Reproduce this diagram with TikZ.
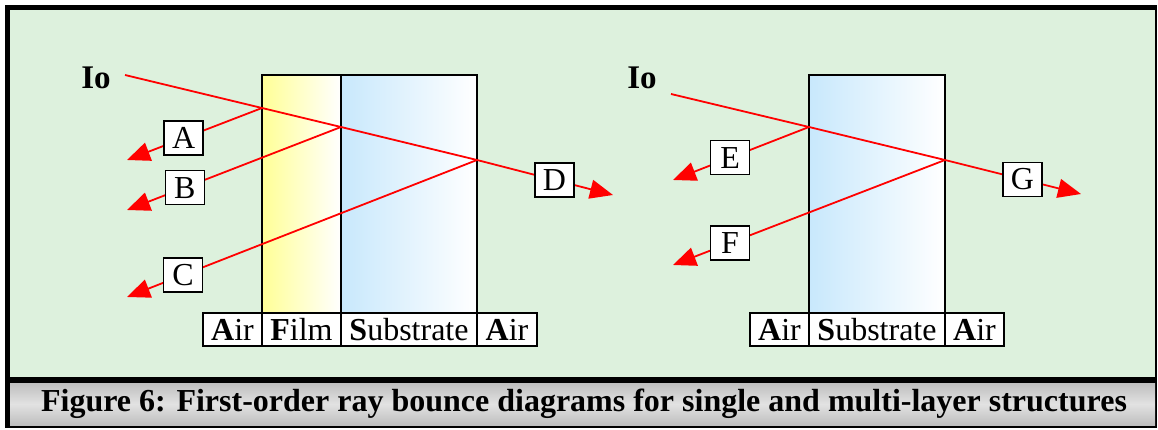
\documentclass[tikz,border=0pt]{standalone}
\usepackage{fontspec}
\setmainfont{Liberation Serif}
\usepackage{xcolor}
\definecolor{FillGreen}{RGB}{221,241,221}
\definecolor{FillYellow}{RGB}{255,255,150}
\definecolor{FillBlue}{RGB}{200,232,252}
\definecolor{CapGray}{RGB}{190,190,190}
\definecolor{CapLight}{RGB}{226,226,226}
\definecolor{RayRed}{RGB}{255,0,0}
\usetikzlibrary{arrows.meta, positioning}
\tikzset{
  % Layer rectangle
  layer/.style={
    rectangle, draw=black, line width=1.5pt,
    inner sep=0pt, outer sep=0pt, anchor=north west
  },
  % Cell of the label row
  cell/.style={
    rectangle, draw=black, line width=1.5pt, fill=white,
    inner sep=0pt, outer sep=0pt, minimum height=33pt,
    font=\fontsize{32}{32}\selectfont
  },
  % Ray tag box
  tag/.style={
    rectangle, draw=black, line width=1.5pt, fill=white, text=black,
    inner sep=0pt, minimum width=39pt, minimum height=34pt,
    font=\fontsize{32}{32}\selectfont
  },
  iolbl/.style={font=\fontsize{33}{33}\selectfont\bfseries},
  captxt/.style={font=\fontsize{32}{32}\selectfont\bfseries},
  % Rays
  ray/.style={RayRed, line width=1.8pt},
  rayarr/.style={ray, -{Triangle[length=23pt,width=19pt]}},
}

\begin{document}
\begin{tikzpicture}[x=1pt, y=-1pt]
  \useasboundingbox (0,0) rectangle (1158,430);

  %% Frame and caption band
  \fill[black] (5,5) rectangle (1157,428);
  \fill[FillGreen] (10,10) rectangle (1155,377);
  \shade[top color=CapGray, bottom color=CapGray, middle color=CapLight]
    (10,383) rectangle (1155,425);
  \node[captxt] (cap) at (584,404)
    {Figure 6: First-order ray bounce diagrams for single and multi-layer structures};

  %% Left: film on substrate
  \node[layer, left color=FillYellow, right color=white,
        minimum width=79pt, minimum height=238pt] (film) at (262,75) {};
  \node[layer, left color=FillBlue, right color=white,
        minimum width=136pt, minimum height=238pt] (subL) at (341,75) {};

  \node[cell, minimum width=59pt, anchor=north west] (airL1) at (203,313) {\textbf{A}ir};
  \node[cell, minimum width=79pt, right=0pt of airL1] (filmL) {\textbf{F}ilm};
  \node[cell, minimum width=136pt, right=0pt of filmL] (subLL) {\textbf{S}ubstrate};
  \node[cell, minimum width=60pt, right=0pt of subLL] (airL2) {\textbf{A}ir};

  %% Right: bare substrate
  \node[layer, left color=FillBlue, right color=white,
        minimum width=136pt, minimum height=238pt] (subR) at (809,75) {};

  \node[cell, minimum width=59pt, anchor=north west] (airR1) at (750,313) {\textbf{A}ir};
  \node[cell, minimum width=136pt, right=0pt of airR1] (subRL) {\textbf{S}ubstrate};
  \node[cell, minimum width=59pt, right=0pt of subRL] (airR2) {\textbf{A}ir};

  %% Incident beams
  \node[iolbl] (ioL) at (96,78) {Io};
  \node[iolbl] (ioR) at (642,78) {Io};

  \coordinate (inL) at (125,75);
  \coordinate (hL1) at (262,108);
  \coordinate (hL2) at (341,127);
  \coordinate (hL3) at (477,160);
  \coordinate (tA) at (127,160);
  \coordinate (tB) at (127,210);
  \coordinate (tC) at (127,297);
  \coordinate (tD) at (613,195);

  \coordinate (inR) at (671,94);
  \coordinate (hR1) at (809,127);
  \coordinate (hR2) at (945,160);
  \coordinate (tE) at (673,180);
  \coordinate (tF) at (673,265);
  \coordinate (tG) at (1081,194);

  %% Rays, left
  \draw[ray] (inL) -- (hL1) -- (hL2) -- (hL3);
  \draw[rayarr] (hL1) -- node[tag, pos=.58] (A) {A} (tA);
  \draw[rayarr] (hL2) -- node[tag, pos=.73] (B) {B} (tB);
  \draw[rayarr] (hL3) -- node[tag, pos=.84] (C) {C} (tC);
  \draw[rayarr] (hL3) -- node[tag, pos=.57] (D) {D} (tD);

  %% Rays, right
  \draw[ray] (inR) -- (hR1) -- (hR2);
  \draw[rayarr] (hR1) -- node[tag, pos=.58] (E) {E} (tE);
  \draw[rayarr] (hR2) -- node[tag, pos=.79] (F) {F} (tF);
  \draw[rayarr] (hR2) -- node[tag, pos=.57] (G) {G} (tG);

\end{tikzpicture}
\end{document}
